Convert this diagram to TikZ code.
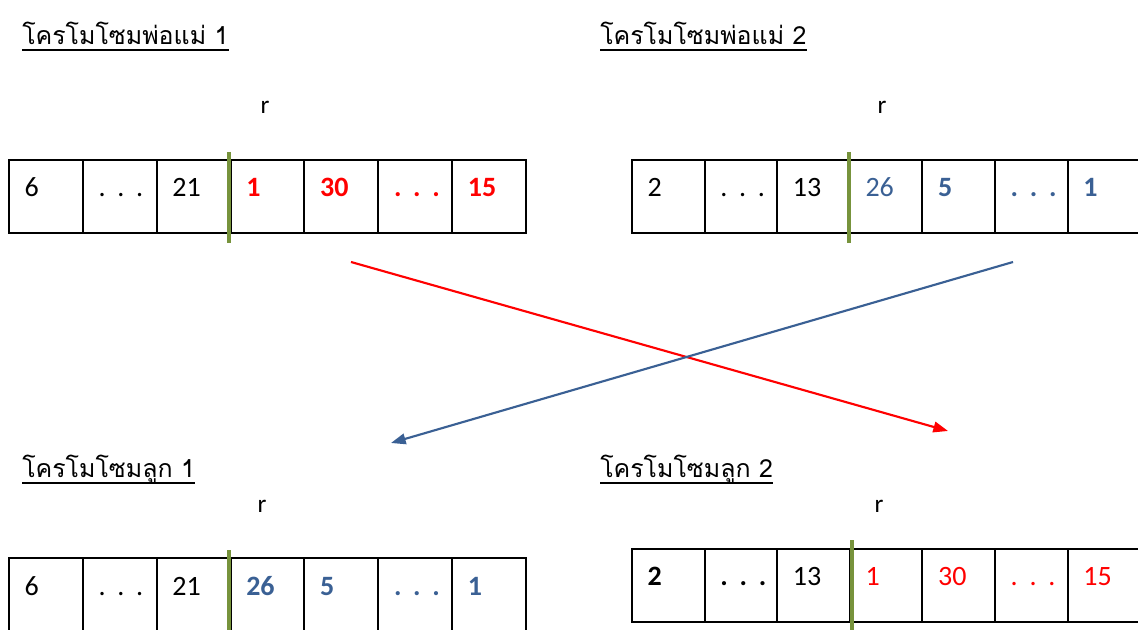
\documentclass[tikz,border=0pt]{standalone}
\usepackage{fontspec}
\setmainfont{Carlito}
\newfontfamily\thaifont[Script=Thai]{Loma}
\usetikzlibrary{calc,arrows.meta}
\definecolor{myred}{HTML}{FF0000}
\definecolor{myblue}{HTML}{3A6094}
\definecolor{mygreen}{HTML}{77933C}
\newcommand\dts{.\hspace{0.42em}.\hspace{0.42em}.}
\newcommand\chromrow[5]{%
  \foreach[count=\k from 0] \t/\s in {#5} {%
    \node[cell, minimum width={#4*0.75pt}] (#1-\k) at ({#2+(\k+0.5)*#4},{#3}) {};
    \node[\s, anchor=base west] (#1-t\k) at ($(#1-\k.north west)+(12,38)$) {\t};
  }%
}
\begin{document}
\begin{tikzpicture}[x=0.75pt,y=-0.75pt,
  cell/.style={draw=black, line width=1.5pt, minimum height=54.75pt, inner sep=0pt},
  nb/.style={font=\fontsize{21}{24}\selectfont, text=black},
  kb/.style={font=\fontsize{21}{24}\selectfont\bfseries, text=black},
  rr/.style={font=\fontsize{21}{24}\selectfont, text=myred},
  rb/.style={font=\fontsize{21}{24}\selectfont\bfseries, text=myred},
  br/.style={font=\fontsize{21}{24}\selectfont, text=myblue},
  bb/.style={font=\fontsize{21}{24}\selectfont\bfseries, text=myblue},
  title/.style={font=\thaifont\fontsize{18.7}{22}\selectfont, inner sep=0pt, anchor=base west},
  rlab/.style={font=\fontsize{19}{20}\selectfont, inner sep=0pt, anchor=base},
  cut/.style={draw=mygreen, line width=2.5pt},
  uline/.style={draw=black, line width=0.9pt},
  arr/.style={line width=1.6pt, -{Triangle[length=11pt,width=8pt]}}
]
\useasboundingbox (0,0) rectangle (1138,630);

% titles
\node[title] (t1) at (22,45) {โครโมโซมพ่อแม่ 1};
\node[title] (t2) at (600,45) {โครโมโซมพ่อแม่ 2};
\node[title] (t3) at (22,478) {โครโมโซมลูก 1};
\node[title] (t4) at (600,478) {โครโมโซมลูก 2};
\foreach \n in {t1,t2,t3,t4}
  \draw[uline] ($(\n.base west)+(0,5)$) -- ($(\n.base east)+(0,5)$);

% r labels
\node[rlab] (r1) at (265,114) {r};
\node[rlab] (r2) at (882,114) {r};
\node[rlab] (r3) at (262,512) {r};
\node[rlab] (r4) at (879,512) {r};

% chromosomes
\chromrow{p1}{9}{196.5}{73.86}{6/nb,\dts/nb,21/nb,1/rb,30/rb,\dts/rb,15/rb}
\chromrow{p2}{632}{196.5}{72.6}{2/nb,\dts/nb,13/nb,26/br,5/bb,\dts/bb,1/bb}
\chromrow{c1}{9}{594.5}{73.86}{6/nb,\dts/nb,21/nb,26/bb,5/bb,\dts/bb,1/bb}
\chromrow{c2}{632}{585}{72.6}{2/kb,\dts/kb,13/nb,1/rr,30/rr,\dts/rr,15/rr}

% crossover points
\coordinate (g1a) at (229,152); \coordinate (g1b) at (229,243);
\coordinate (g2a) at (849,152); \coordinate (g2b) at (849,243);
\coordinate (g3a) at (229,550); \coordinate (g3b) at (229,640);
\coordinate (g4a) at (852,540); \coordinate (g4b) at (852,640);
\draw[cut] (g1a) -- (g1b);
\draw[cut] (g2a) -- (g2b);
\draw[cut] (g3a) -- (g3b);
\draw[cut] (g4a) -- (g4b);

% arrows
\coordinate (a1s) at (351,262); \coordinate (a1e) at (948,431);
\coordinate (a2s) at (1013,262); \coordinate (a2e) at (391,443);
\draw[arr, draw=myred, fill=myred] (a1s) -- (a1e);
\draw[arr, draw=myblue, fill=myblue] (a2s) -- (a2e);
\end{tikzpicture}
\end{document}
